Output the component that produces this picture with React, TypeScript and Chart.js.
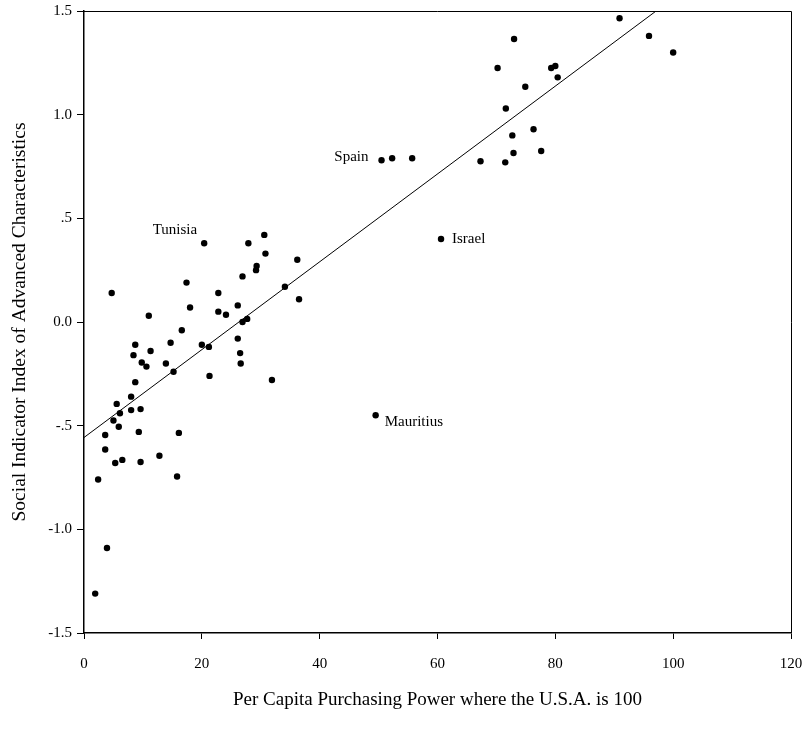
import React, { useEffect, useRef } from "react";
import { Chart, registerables } from "chart.js";

Chart.register(...registerables);

// Per capita purchasing power (U.S.A. = 100)
const ppX: number[] = [
  20.4, 27.9, 30.6, 30.8, 36.2, 4.7, 17.4, 18.0, 22.8, 22.8,
  24.1, 26.1, 26.9, 29.2, 29.3, 34.1, 36.5, 11.0, 26.9, 27.7,
  16.6, 8.7, 8.4, 11.3, 14.7, 20.0, 21.2, 26.1, 26.5, 26.6,
  9.8, 10.6, 13.9, 15.2, 21.3, 31.9, 8.7, 8.0, 5.55, 6.1,
  9.6, 8.0, 5.0, 5.9, 9.3, 16.1, 3.6, 3.6, 5.3, 6.5,
  9.6, 12.8, 2.4, 15.8, 3.9, 1.9,
  50.5, 52.3, 55.7, 60.6, 49.5,
  67.3, 71.5, 72.9, 72.7, 77.6, 76.3, 71.6, 74.9, 70.2, 79.3,
  80.0, 80.4, 73.0, 90.9, 95.9, 100.0,
];

// Social indicator index of advanced characteristics
const siY: number[] = [
  0.38, 0.38, 0.42, 0.33, 0.30, 0.14, 0.19, 0.07, 0.14, 0.05,
  0.035, 0.08, 0.22, 0.25, 0.27, 0.17, 0.11, 0.03, 0.0, 0.015,
  -0.04, -0.11, -0.16, -0.14, -0.10, -0.11, -0.12, -0.08, -0.15, -0.20,
  -0.195, -0.215, -0.20, -0.24, -0.26, -0.28, -0.29, -0.36, -0.395, -0.44,
  -0.42, -0.425, -0.475, -0.505, -0.53, -0.535, -0.545, -0.615, -0.68, -0.665,
  -0.675, -0.645, -0.76, -0.745, -1.09, -1.31,
  0.78, 0.79, 0.79, 0.40, -0.45,
  0.775, 0.77, 0.815, 0.90, 0.825, 0.93, 1.03, 1.135, 1.225, 1.225,
  1.235, 1.18, 1.365, 1.465, 1.38, 1.30,
];

// Fitted regression line end points
const fitX: number[] = [0, 97.1];
const fitY: number[] = [-0.557, 1.5];

// Named countries (index into the point arrays)
const labelNames: string[] = ["Tunisia", "Spain", "Israel", "Mauritius"];
const labelIndex: number[] = [0, 56, 59, 60];

const xTicks: number[] = [0, 20, 40, 60, 80, 100, 120];
const yTickValues: number[] = [-1.5, -1.0, -0.5, 0.0, 0.5, 1.0, 1.5];
const yTickLabels: string[] = ["-1.5", "-1.0", "-.5", "0.0", ".5", "1.0", "1.5"];

const FONT = "'Liberation Serif', 'Times New Roman', serif";

// label placement: [dx, dy, align]
const labelPlacement: Record<string, [number, number, CanvasTextAlign]> = {
  Tunisia: [-7, -13, "right"],
  Spain: [-13, -3, "right"],
  Israel: [11, 0, "left"],
  Mauritius: [9, 7, "left"],
};

const boxPlugin = {
  id: "boxAndLabels",
  afterDatasetsDraw(chart: any) {
    const { ctx, chartArea, scales } = chart;
    ctx.save();
    ctx.strokeStyle = "#000";
    ctx.lineWidth = 1;
    ctx.beginPath();
    ctx.moveTo(chartArea.left, chartArea.top + 0.5);
    ctx.lineTo(chartArea.right + 0.5, chartArea.top + 0.5);
    ctx.lineTo(chartArea.right + 0.5, chartArea.bottom);
    ctx.stroke();

    ctx.fillStyle = "#000";
    ctx.font = `15px ${FONT}`;
    ctx.textBaseline = "middle";
    labelNames.forEach((name, i) => {
      const idx = labelIndex[i];
      const px = scales.x.getPixelForValue(ppX[idx]);
      const py = scales.y.getPixelForValue(siY[idx]);
      const [dx, dy, align] = labelPlacement[name];
      ctx.textAlign = align;
      ctx.fillText(name, px + dx, py + dy);
    });
    ctx.restore();
  },
};

export default function App() {
  const canvasRef = useRef<HTMLCanvasElement | null>(null);

  useEffect(() => {
    document.body.style.margin = "0";
    document.body.style.overflow = "hidden";
    const canvas = canvasRef.current;
    if (!canvas) return;

    const points = ppX.map((x, i) => ({ x, y: siY[i] }));
    const fit = fitX.map((x, i) => ({ x, y: fitY[i] }));

    const chart = new Chart(canvas, {
      type: "scatter",
      data: {
        datasets: [
          {
            type: "line",
            data: fit,
            borderColor: "#000",
            borderWidth: 1,
            pointRadius: 0,
            fill: false,
            order: 2,
          } as any,
          {
            type: "scatter",
            data: points,
            backgroundColor: "#000",
            borderColor: "#000",
            pointRadius: 3.2,
            borderWidth: 0,
            order: 1,
          },
        ],
      },
      options: {
        responsive: false,
        animation: false,
        devicePixelRatio: 1,
        layout: { padding: { top: 11, right: 15, bottom: 0, left: 0 } },
        plugins: {
          legend: { display: false },
          tooltip: { enabled: false },
        },
        scales: {
          x: {
            type: "linear",
            min: 0,
            max: 120,
            afterBuildTicks: (scale: any) => {
              scale.ticks = xTicks.map((v) => ({ value: v }));
            },
            afterFit: (scale: any) => {
              scale.height = 103;
              scale.paddingLeft = 0;
              scale.paddingRight = 0;
            },
            grid: {
              drawOnChartArea: false,
              drawTicks: true,
              tickLength: 6,
              color: "#000",
            },
            border: { display: true, color: "#000", width: 1.5 },
            ticks: {
              color: "#000",
              padding: 16,
              maxRotation: 0,
              font: { family: FONT, size: 15 },
              callback: (v: any) => String(v),
            },
            title: {
              display: true,
              text: "Per Capita Purchasing Power where the U.S.A. is 100",
              color: "#000",
              font: { family: FONT, size: 19 },
              padding: { top: 0, bottom: 25 },
            },
          },
          y: {
            type: "linear",
            min: -1.5,
            max: 1.5,
            afterBuildTicks: (scale: any) => {
              scale.ticks = yTickValues.map((v) => ({ value: v }));
            },
            afterFit: (scale: any) => {
              scale.width = 84;
              scale.paddingTop = 0;
              scale.paddingBottom = 0;
            },
            grid: {
              drawOnChartArea: false,
              drawTicks: true,
              tickLength: 7,
              color: "#000",
            },
            border: { display: true, color: "#000", width: 1.5 },
            ticks: {
              color: "#000",
              padding: 5,
              font: { family: FONT, size: 15 },
              callback: (v: any) => {
                const i = yTickValues.findIndex((t) => Math.abs(t - Number(v)) < 1e-9);
                return i >= 0 ? yTickLabels[i] : "";
              },
            },
            title: {
              display: true,
              text: "Social Indicator Index of Advanced Characteristics",
              color: "#000",
              font: { family: FONT, size: 19.5 },
              padding: { top: 8, bottom: 0 },
            },
          },
        },
      },
      plugins: [boxPlugin],
    });

    return () => chart.destroy();
  }, []);

  return (
    <div style={{ width: 806, height: 736, background: "#fff" }}>
      <canvas ref={canvasRef} width={806} height={736} style={{ display: "block" }} />
    </div>
  );
}
